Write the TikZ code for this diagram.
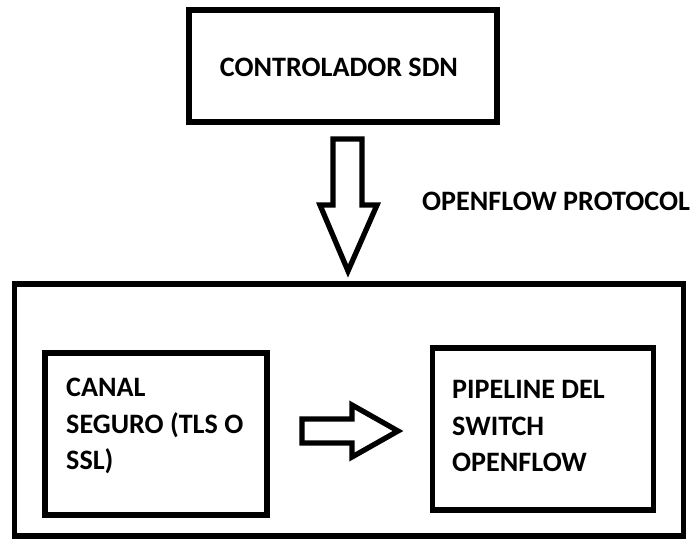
\documentclass[tikz,border=0pt]{standalone}
\usepackage{fontspec}
\setmainfont{Carlito}
\begin{document}
\begin{tikzpicture}[x=0.03cm, y=-0.03cm,
    caja/.style={draw, line width=5pt, inner sep=0pt},
    rotulo/.style={font=\fontsize{24}{31}\selectfont\bfseries, inner sep=0pt},
    flecha/.style={draw, line width=4.5pt, line join=miter}]
    % area del dibujo
    \useasboundingbox (0,0) rectangle (690,545);

    % controlador
    \node[caja, minimum width=308*0.03cm, minimum height=112*0.03cm] (controlador) at (343,66) {};
    \node[rotulo] (txtcontrolador) at (339,67) {CONTROLADOR SDN};

    % flecha hacia abajo
    \draw[flecha] (333,139) -- (362,139) -- (362,205) -- (377,205) -- (348,271)
        -- (320,205) -- (333,205) -- cycle;
    \node[rotulo, anchor=west] (protocolo) at (422,201) {OPENFLOW PROTOCOL};

    % switch
    \node[caja, line width=4.5pt, minimum width=669*0.03cm, minimum height=252*0.03cm] (switch) at (349,410) {};

    % canal seguro
    \node[caja, minimum width=222*0.03cm, minimum height=162*0.03cm] (canal) at (156,434) {};
    \node[rotulo, anchor=west, align=left] (txtcanal) at (66,426) {CANAL\\SEGURO (TLS O\\SSL)};

    % flecha a la derecha
    \draw[flecha] (302,419) -- (352,419) -- (352,405) -- (398,431) -- (352,457)
        -- (352,443) -- (302,443) -- cycle;

    % pipeline
    \node[caja, minimum width=221*0.03cm, minimum height=162*0.03cm] (pipeline) at (543,429) {};
    \node[rotulo, anchor=west, align=left] (txtpipeline) at (452,426) {PIPELINE DEL\\SWITCH\\OPENFLOW};
\end{tikzpicture}
\end{document}
